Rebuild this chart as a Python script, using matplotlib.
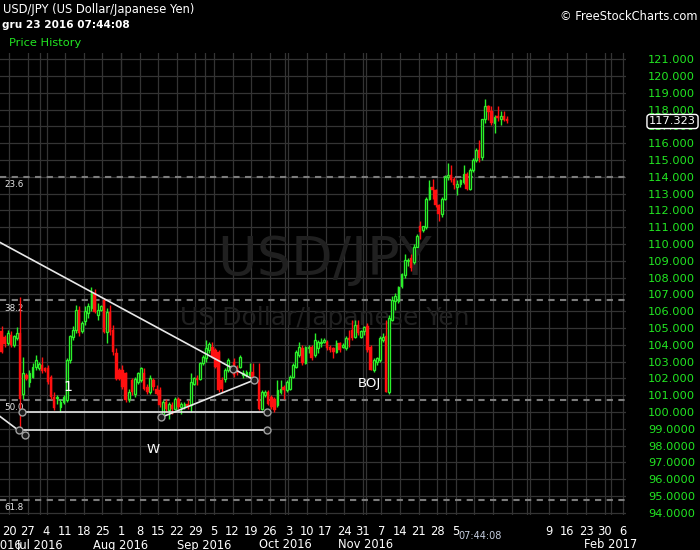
import numpy as np
import matplotlib
matplotlib.use("Agg")
import matplotlib.pyplot as plt
from matplotlib.transforms import blended_transform_factory

# USD/JPY daily bars, Thu 16 Jun 2016 .. Fri 23 Dec 2016
# six bars a week: Mon..Fri plus the short Sunday-evening bar
opens = [
    104.80, 104.45, 104.10,
    104.60, 104.00, 104.40, 104.70, 101.10, 102.20,
    101.80, 102.10, 102.70, 102.60, 102.80, 102.60,
    102.60, 102.10, 100.90, 100.85, 100.30, 100.60,
    100.72, 103.10, 104.49, 104.90, 106.10, 104.80,
    105.40, 105.90, 106.18, 107.07, 105.78, 106.10,
    106.67, 104.79, 105.98, 104.90, 103.50, 102.50,
    102.50, 102.30, 100.80, 101.90, 101.10, 101.80,
    101.90, 102.30, 101.50, 101.20, 101.90, 101.40,
    101.30, 99.85, 100.60, 100.10, 100.40, 100.20,
    100.80, 100.30, 100.35, 100.50, 100.40, 101.70,
    102.05, 101.95, 102.90, 103.20, 103.70, 103.90,
    103.70, 103.60, 101.90, 102.00, 102.50, 102.60,
    103.00, 102.70, 102.70, 102.20, 102.20, 102.20,
    102.40, 101.95, 101.90, 100.20, 101.00, 101.20,
    100.90, 100.80, 100.40, 101.20, 101.50, 101.30,
    101.40, 102.10, 102.70, 103.40, 103.80, 102.90,
    103.80, 103.90, 103.40, 103.80, 104.10, 104.20,
    104.20, 103.90, 103.80, 103.60, 104.10, 103.90,
    103.80, 104.40, 104.90, 104.50, 105.20, 104.50,
    104.85, 105.10, 103.90, 102.50, 103.00, 103.10,
    104.30, 104.50, 101.20, 105.50, 106.60, 106.60,
    107.50, 108.15, 109.00, 109.15, 108.95, 109.85,
    111.05, 110.85, 111.00, 112.70, 113.40, 113.20,
    112.30, 111.80, 112.70, 114.00, 114.10, 113.90,
    113.40, 113.60, 113.70, 114.20, 113.30, 114.40,
    115.00, 115.60, 115.16, 117.43, 118.22, 117.94,
    117.23, 117.60, 117.43, 117.60, 117.43,
]
highs = [
    105.10, 104.60, 104.90,
    104.80, 104.60, 105.05, 106.85, 103.30, 102.30,
    102.50, 102.90, 103.40, 103.00, 103.30, 102.70,
    102.80, 102.20, 101.20, 101.00, 100.80, 101.00,
    103.20, 104.60, 105.10, 106.40, 106.30, 105.40,
    106.30, 106.50, 107.47, 107.30, 106.50, 106.40,
    106.80, 106.20, 106.40, 105.20, 103.80, 102.60,
    102.80, 102.40, 101.40, 102.00, 102.10, 102.40,
    102.70, 102.60, 101.70, 102.20, 102.00, 101.60,
    101.50, 100.70, 100.80, 100.60, 100.60, 100.90,
    100.90, 100.60, 100.60, 100.70, 102.30, 102.10,
    102.20, 103.00, 103.40, 104.30, 104.20, 104.20,
    103.80, 103.70, 102.10, 102.60, 103.20, 102.80,
    103.20, 102.80, 103.40, 102.50, 102.50, 102.90,
    102.90, 102.10, 102.90, 101.30, 101.30, 101.30,
    101.00, 100.90, 101.90, 101.90, 101.60, 101.90,
    102.20, 102.90, 103.70, 104.20, 104.00, 103.95,
    104.00, 104.00, 104.70, 104.30, 104.40, 104.40,
    104.30, 104.00, 103.90, 104.30, 104.20, 104.10,
    104.50, 104.90, 105.50, 105.50, 105.50, 104.90,
    105.10, 105.30, 104.00, 103.20, 103.30, 104.50,
    104.70, 105.50, 105.80, 106.90, 107.10, 107.50,
    108.30, 109.40, 109.20, 109.40, 110.00, 110.60,
    111.40, 111.10, 112.80, 113.80, 113.90, 113.30,
    112.40, 112.80, 114.10, 114.80, 114.70, 114.00,
    113.80, 113.90, 114.70, 114.30, 114.50, 115.10,
    115.70, 116.20, 117.45, 118.62, 118.30, 118.20,
    117.70, 118.20, 117.90, 117.90, 117.60,
]
lows = [
    103.50, 103.90, 104.00,
    103.90, 103.90, 104.30, 98.93, 100.80, 101.90,
    101.50, 102.00, 102.50, 102.50, 102.30, 102.40,
    101.70, 100.80, 100.10, 100.50, 99.98, 100.50,
    100.60, 102.90, 104.30, 104.70, 104.50, 104.70,
    105.20, 105.60, 106.00, 105.90, 105.50, 106.00,
    104.70, 104.10, 104.60, 103.40, 101.90, 101.90,
    101.40, 100.60, 100.60, 101.00, 100.90, 101.70,
    101.80, 101.30, 101.10, 101.10, 101.30, 101.00,
    100.30, 99.60, 100.00, 99.60, 99.90, 100.10,
    100.20, 99.90, 100.20, 100.20, 100.00, 101.60,
    101.60, 101.90, 102.80, 103.00, 103.50, 103.20,
    102.60, 101.20, 101.20, 101.80, 102.40, 102.50,
    102.10, 102.20, 102.60, 102.00, 102.10, 102.10,
    101.80, 101.80, 100.10, 100.10, 100.90, 100.40,
    100.20, 100.00, 100.30, 101.10, 100.80, 101.20,
    101.30, 102.00, 102.60, 103.30, 102.80, 102.85,
    103.50, 103.10, 103.30, 103.50, 103.90, 104.10,
    103.70, 103.60, 103.20, 103.50, 103.60, 103.80,
    103.70, 103.90, 104.30, 104.40, 104.60, 104.40,
    104.60, 103.60, 102.50, 102.40, 102.80, 103.00,
    104.20, 101.18, 101.10, 105.40, 106.10, 106.50,
    107.40, 108.00, 108.70, 108.40, 108.80, 109.80,
    110.30, 110.70, 110.90, 112.60, 112.70, 112.20,
    111.40, 111.60, 112.60, 113.80, 113.70, 113.30,
    112.90, 113.40, 113.60, 113.20, 113.20, 114.30,
    114.90, 114.90, 115.00, 117.20, 117.40, 117.10,
    116.60, 117.30, 117.10, 117.30, 117.20,
]
closes = [
    103.60, 104.05, 104.70,
    104.00, 104.50, 104.70, 100.80, 102.30, 102.00,
    102.30, 102.70, 103.10, 102.85, 102.45, 102.45,
    101.80, 100.90, 100.25, 100.90, 100.60, 100.90,
    103.10, 104.50, 104.89, 106.10, 104.70, 105.30,
    106.00, 106.30, 107.07, 105.98, 106.08, 106.30,
    104.79, 105.98, 104.79, 103.60, 102.00, 102.00,
    101.50, 100.70, 101.20, 101.20, 102.00, 102.30,
    102.60, 101.40, 101.20, 102.00, 101.50, 101.10,
    100.40, 100.60, 100.20, 100.50, 100.20, 100.80,
    100.30, 100.50, 100.50, 100.35, 101.80, 102.05,
    101.90, 102.95, 103.30, 103.80, 104.05, 103.30,
    102.70, 101.30, 101.40, 102.50, 103.10, 102.70,
    102.20, 102.30, 103.30, 102.30, 102.40, 102.40,
    101.90, 101.85, 100.20, 101.20, 101.20, 100.50,
    100.30, 100.10, 101.30, 101.40, 101.30, 101.80,
    102.10, 102.80, 103.60, 103.90, 102.90, 103.90,
    103.90, 103.20, 104.30, 104.20, 104.20, 104.30,
    103.80, 103.70, 103.60, 104.10, 103.70, 104.00,
    104.40, 104.30, 104.40, 105.20, 104.70, 104.80,
    105.05, 103.70, 102.50, 103.10, 103.20, 104.40,
    104.50, 101.20, 105.60, 106.70, 106.90, 107.45,
    108.20, 109.05, 109.05, 108.60, 109.85, 110.50,
    110.75, 111.05, 112.70, 113.40, 113.20, 112.30,
    111.80, 112.70, 114.00, 114.10, 113.80, 113.50,
    113.60, 113.80, 114.20, 113.30, 114.40, 115.00,
    115.60, 115.10, 117.43, 118.22, 117.88, 117.23,
    117.59, 117.50, 117.60, 117.40, 117.32,
]

# weekly date labels (Mondays from 20 Jun 2016), some hidden on the original
week_labels = ['20', '27', '4', '11', '18', '25', '1', '8', '15', '22', '29',
               '5', '12', '19', '26', '3', '10', '17', '24', '31', '7', '14',
               '21', '28', '5', '', '', '', '', '9', '16', '23', '30', '6']
month_names = ['Jul 2016', 'Aug 2016', 'Sep 2016', 'Oct 2016', 'Nov 2016', 'Feb 2017']
month_first_bar = [10, 36, 63, 89, 115, 194]
month_lines = [10, 36, 63, 89, 115, 141, 167, 194]

fib_levels = [114.0, 106.65, 100.72, 94.78]
fib_names = ['23.6', '38.2', '50.0', '61.8']

price_ticks = list(range(94, 122))
last_price = 117.323

# hand drawn lines (bar index, price)
down_line = ([-5, 78.5], [110.25, 101.91])
up_line = ([48.5, 78.5], [99.69, 101.91])
flat_1 = ([3.5, 82.5], [99.98, 99.98])
flat_2 = ([2.6, 82.5], [98.92, 98.92])
short_line = ([-5, 4.6], [99.95, 98.62])
anchor_x = [71.6, 78.5, 48.5, 3.5, 82.5, 2.6, 82.5, 4.6]
anchor_y = [102.57, 101.91, 99.69, 99.98, 99.98, 98.92, 98.92, 98.62]

W, H = 700, 550
green = '#2bf02b'
red = '#ff1010'
label_green = '#22e622'
grid_col = '#343434'

fig = plt.figure(figsize=(7, 5.5), dpi=100, facecolor='black')
ax = fig.add_axes([0, 35 / H, 626 / W, 462 / H])
ax.set_facecolor('black')
for s in ax.spines.values():
    s.set_visible(False)
ax.set_xlim(-3.5, 198.4)
ax.set_ylim(93.875, 121.375)

# grid: weeks, month starts, whole yen
week_pos = [6 * w - 0.5 for w in range(len(week_labels))]
for xp in week_pos:
    ax.axvline(xp, color=grid_col, lw=0.9, zorder=0)
for m in month_lines:
    ax.axvline(m - 0.5, color=grid_col, lw=0.9, zorder=0)
for p in price_ticks:
    ax.axhline(p, color=grid_col, lw=0.9, zorder=0)

# watermark
ax.text(325 / 626, (515 - 260) / 462, 'USD/JPY', transform=ax.transAxes,
        ha='center', va='center', fontsize=39, color='#202020', zorder=1)
ax.text(325 / 626, (515 - 318) / 462, 'US Dollar/Japanese Yen', transform=ax.transAxes,
        ha='center', va='center', fontsize=18, color='#202020', zorder=1)

# fibonacci levels
ylev = blended_transform_factory(ax.transAxes, ax.transData)
for lvl, name in zip(fib_levels, fib_names):
    ax.axhline(lvl, color='#7c7c7c', lw=1.5, ls=(0, (3, 2.6)), zorder=1)
    ax.annotate(name, xy=(0, lvl), xycoords=ylev, xytext=(3, -2.5),
                textcoords='offset points', ha='left', va='top',
                fontsize=6.3, color='#e6e6e6', zorder=2)

# candles
x = np.arange(len(opens)) - 3
o = np.array(opens)
h = np.array(highs)
l = np.array(lows)
c = np.array(closes)
up = c >= o
body = np.maximum(np.abs(c - o), 0.05)
bottom = np.minimum(o, c)
ax.vlines(x[up], l[up], h[up], color=green, lw=1.0, zorder=3)
ax.vlines(x[~up], l[~up], h[~up], color=red, lw=1.0, zorder=3)
ax.bar(x[up], body[up], bottom=bottom[up], width=0.58, facecolor='black',
       edgecolor=green, linewidth=0.95, zorder=4)
ax.bar(x[~up], body[~up], bottom=bottom[~up], width=0.8, facecolor=red,
       edgecolor=red, linewidth=0.3, zorder=4)

# drawings
for xs, ys in [down_line, up_line, flat_1, flat_2, short_line]:
    ax.plot(xs, ys, color='#e8e8e8', lw=1.2, zorder=5, solid_capstyle='butt')
ax.plot(anchor_x, anchor_y, 'o', ms=5, mfc='#1c1c1c', mec='#a0a0a0', mew=1,
        ls='none', zorder=6)
ax.text(18.4, 101.48, '1', color='white', fontsize=10, ha='center', va='center', zorder=6)
ax.text(45.9, 97.8, 'W', color='white', fontsize=9.5, ha='center', va='center', zorder=6)
ax.text(115.5, 101.73, 'BOJ', color='white', fontsize=9.5, ha='center', va='center', zorder=6)

# price scale on the right
ax.yaxis.tick_right()
ax.set_yticks(price_ticks)
ax.set_yticklabels([f'{p:.3f}' if p >= 100 else f'{p:.4f}' for p in price_ticks])
ax.tick_params(axis='y', length=0, pad=49.7, labelcolor=label_green, labelsize=8.2)
for t in ax.get_yticklabels():
    t.set_horizontalalignment('right')

# date scale
ax.set_xticks(week_pos)
ax.set_xticklabels(week_labels)
ax.tick_params(axis='x', length=0, pad=7.5, labelcolor='white', labelsize=8.3)
xtr = blended_transform_factory(ax.transData, ax.transAxes)
my = -(545 - 515) / 462
ax.text(3.6, my, 'Jun 2016', transform=xtr, ha='right', va='center',
        color='white', fontsize=8.3, clip_on=False)
for name, b in zip(month_names, month_first_bar):
    ax.text(b - 0.5, my, name, transform=xtr, ha='center', va='center',
            color='white', fontsize=8.3, clip_on=False)

# header texts
fig.text(3 / W, 1 - 9 / H, 'USD/JPY (US Dollar/Japanese Yen)', color='white',
         fontsize=8.3, va='center')
fig.text(2 / W, 1 - 25 / H, 'gru 23 2016 07:44:08', color='white',
         fontsize=7.6, va='center', fontweight='bold')
fig.text(9 / W, 1 - 43 / H, 'Price History', color=label_green, fontsize=8.2, va='center')
fig.text(698 / W, 1 - 17 / H, '\u00a9 FreeStockCharts.com', color='white',
         fontsize=8.3, ha='right', va='center')
fig.text(480 / W, 1 - 536 / H, '07:44:08', color='#c6cee0', fontsize=7,
         ha='center', va='center')
fig.text(696 / W, 1 - 121.5 / H, f'{last_price:.3f}', color='white', fontsize=8.2,
         ha='right', va='center',
         bbox=dict(boxstyle='round,pad=0.18,rounding_size=0.25', fc='black',
                   ec='white', lw=1))

fig.savefig('out.png', dpi=100, facecolor='black')
